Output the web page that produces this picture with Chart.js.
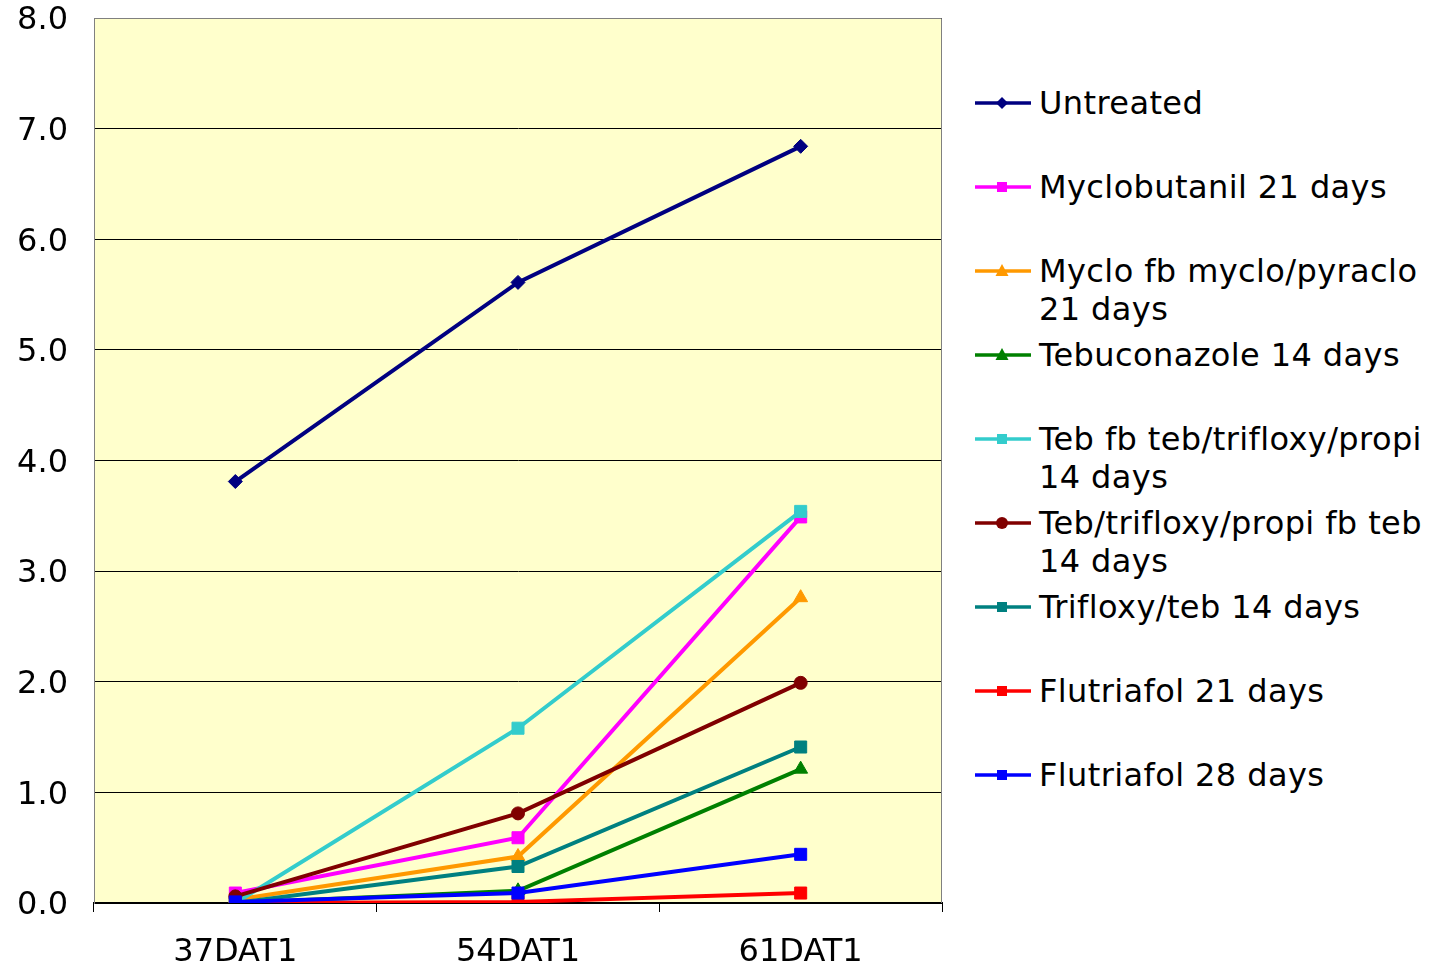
<!DOCTYPE html>
<html>
<head>
<meta charset="utf-8">
<script src="https://cdn.jsdelivr.net/npm/chart.js@4"></script>
<style>
  html, body { margin: 0; padding: 0; background: #ffffff; }
  #wrap { position: relative; width: 1438px; height: 967px; overflow: hidden; }
  #chartBox { position: absolute; left: 0; top: 0; width: 960px; height: 967px; }
  #legend { position: absolute; left: 975px; top: 0; width: 463px; height: 967px;
            font-family: "DejaVu Sans", Verdana, sans-serif; font-size: 32px; letter-spacing: 0.4px; color: #000; }
  .item { position: absolute; left: 0; display: flex; align-items: flex-start; }
  .item svg { flex: none; }
  .item span { margin-left: 8px; line-height: 38px; white-space: pre; }
</style>
</head>
<body>
<div id="wrap">
  <div id="chartBox"><canvas id="c" width="960" height="967"></canvas></div>
  <div id="legend"></div>
</div>
<script>
const categories = ['37DAT1', '54DAT1', '61DAT1'];
const seriesNames = [
  'Untreated',
  'Myclobutanil 21 days',
  'Myclo fb myclo/pyraclo\n21 days',
  'Tebuconazole 14 days',
  'Teb fb teb/trifloxy/propi\n14 days',
  'Teb/trifloxy/propi fb teb\n14 days',
  'Trifloxy/teb 14 days',
  'Flutriafol 21 days',
  'Flutriafol 28 days'
];
const untreated      = [3.81, 5.61, 6.84];
const myclobutanil21 = [0.09, 0.59, 3.49];
const mycloFbPyraclo = [0.03, 0.42, 2.76];
const tebuconazole14 = [0.00, 0.11, 1.21];
const tebFbTrifloxy  = [0.00, 1.58, 3.54];
const trifloxyFbTeb  = [0.06, 0.81, 1.99];
const trifloxyTeb14  = [0.00, 0.33, 1.41];
const flutriafol21   = [0.00, 0.01, 0.09];
const flutriafol28   = [0.01, 0.09, 0.44];
const yTicks = [0, 1, 2, 3, 4, 5, 6, 7, 8];

const seriesValues = [untreated, myclobutanil21, mycloFbPyraclo, tebuconazole14, tebFbTrifloxy,
                      trifloxyFbTeb, trifloxyTeb14, flutriafol21, flutriafol28];
const colors = ['#000080', '#FF00FF', '#FF9900', '#008000', '#33CCCC', '#800000', '#008080', '#FF0000', '#0000FF'];
const shapes = ['rectRot', 'rect', 'triangle', 'triangle', 'rect', 'circle', 'rect', 'rect', 'rect'];
const radii  = { rectRot: 7, rect: 8.5, triangle: 8, circle: 6.5 };

const datasets = seriesValues.map((vals, i) => ({
  label: seriesNames[i].replace('\n', ' '),
  data: vals,
  borderColor: colors[i],
  backgroundColor: colors[i],
  borderWidth: 4,
  pointStyle: shapes[i],
  pointRadius: radii[shapes[i]],
  pointBorderWidth: 1,
  pointBackgroundColor: colors[i],
  pointBorderColor: colors[i],
  tension: 0,
  fill: false,
  order: seriesValues.length - i
}));

const plotDecor = {
  id: 'plotDecor',
  beforeDraw(chart) {
    const a = chart.chartArea, ctx = chart.ctx;
    ctx.save();
    ctx.fillStyle = '#FFFFCC';
    ctx.fillRect(a.left, a.top, a.right - a.left, a.bottom - a.top);
    ctx.restore();
  },
  beforeDatasetsDraw(chart) {
    const a = chart.chartArea, ctx = chart.ctx;
    ctx.save();
    ctx.strokeStyle = '#808080';
    ctx.lineWidth = 1;
    ctx.beginPath();
    ctx.moveTo(a.left + 0.5, a.bottom);
    ctx.lineTo(a.left + 0.5, a.top + 0.5);
    ctx.lineTo(a.right - 0.5, a.top + 0.5);
    ctx.lineTo(a.right - 0.5, a.bottom);
    ctx.stroke();
    ctx.restore();
  }
};

new Chart(document.getElementById('c'), {
  type: 'line',
  data: { labels: categories, datasets },
  plugins: [plotDecor],
  options: {
    responsive: false,
    animation: false,
    events: [],
    layout: { padding: { top: 18, right: 18, left: 0, bottom: 0 } },
    plugins: { legend: { display: false }, tooltip: { enabled: false } },
    scales: {
      x: {
        type: 'category',
        offset: true,
        grid: { offset: true, drawOnChartArea: false, drawTicks: true, tickLength: 9, color: '#000000', lineWidth: 1 },
        border: { display: true, color: '#000000', width: 2 },
        ticks: { color: '#000000', font: { family: 'DejaVu Sans', size: 32 }, padding: 21, maxRotation: 0 },
        afterFit(scale) { scale.height = 64; scale.paddingLeft = 0; scale.paddingRight = 0; }
      },
      y: {
        min: 0, max: 8,
        afterBuildTicks(scale) { scale.ticks = yTicks.map(v => ({ value: v })); },
        grid: { drawTicks: false, color: '#000000', lineWidth: 1 },
        border: { display: true, color: '#808080', width: 1 },
        ticks: { color: '#000000', font: { family: 'DejaVu Sans', size: 32 }, padding: 26, labelOffset: 3,
                 callback: v => Number(v).toFixed(1) },
        afterFit(scale) { scale.width = 94; scale.paddingTop = 0; scale.paddingBottom = 0; }
      }
    }
  }
});

// HTML legend built from the same arrays
const legend = document.getElementById('legend');
const NS = 'http://www.w3.org/2000/svg';
seriesNames.forEach((name, i) => {
  const item = document.createElement('div');
  item.className = 'item';
  item.style.top = (84 + 84 * i) + 'px';
  const svg = document.createElementNS(NS, 'svg');
  svg.setAttribute('width', '56'); svg.setAttribute('height', '38');
  const line = document.createElementNS(NS, 'line');
  line.setAttribute('x1', '0'); line.setAttribute('x2', '56');
  line.setAttribute('y1', '19'); line.setAttribute('y2', '19');
  line.setAttribute('stroke', colors[i]); line.setAttribute('stroke-width', '3.5');
  svg.appendChild(line);
  let m;
  const cx = 27, cy = 19;
  if (shapes[i] === 'rect') {
    m = document.createElementNS(NS, 'rect');
    m.setAttribute('x', cx - 5); m.setAttribute('y', cy - 5);
    m.setAttribute('width', 10); m.setAttribute('height', 10);
  } else if (shapes[i] === 'rectRot') {
    m = document.createElementNS(NS, 'polygon');
    m.setAttribute('points', `${cx},${cy-6} ${cx+6},${cy} ${cx},${cy+6} ${cx-6},${cy}`);
  } else if (shapes[i] === 'triangle') {
    m = document.createElementNS(NS, 'polygon');
    m.setAttribute('points', `${cx},${cy-7} ${cx+6.5},${cy+5} ${cx-6.5},${cy+5}`);
  } else {
    m = document.createElementNS(NS, 'circle');
    m.setAttribute('cx', cx); m.setAttribute('cy', cy); m.setAttribute('r', 6);
  }
  m.setAttribute('fill', colors[i]);
  svg.appendChild(m);
  const span = document.createElement('span');
  span.textContent = name;
  item.appendChild(svg);
  item.appendChild(span);
  legend.appendChild(item);
});
</script>
</body>
</html>
